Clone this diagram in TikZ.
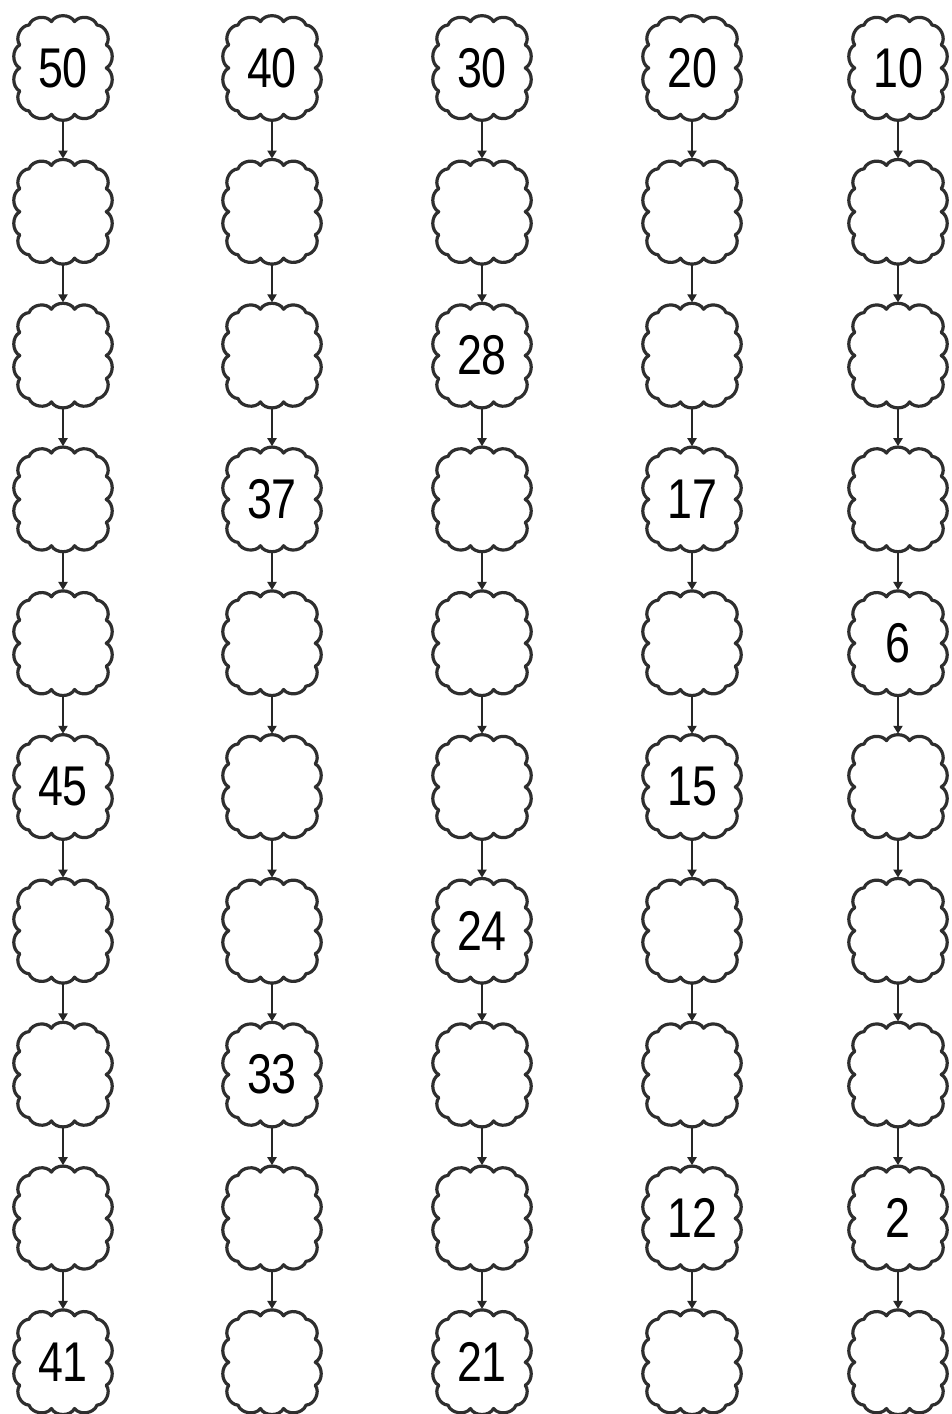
\documentclass[tikz,border=0pt]{standalone}
\usepackage{fontspec}
\setmainfont{Liberation Sans}
\usetikzlibrary{arrows.meta}
\tikzset{
  cellbox/.style={rectangle, draw=none, minimum width=100pt, minimum height=106pt,
    inner sep=0pt, font=\fontsize{56}{56}\selectfont},
  cloudline/.style={draw=black!82, line width=3.2pt, fill=white, line join=round},
  puff/.style={bend right=62},
  link/.style={draw=black!85, line width=2.6pt, -{Triangle[length=8pt,width=9pt]}}
}
\newcommand\cloudoutline{(-11.2,45) to[puff] (-32.97,41.72) to[puff] (-42,22.4)
 to[puff] (-42,0) to[puff] (-42,-22.4) to[puff] (-32.97,-41.72) to[puff] (-11.2,-45)
 to[puff] (11.2,-45) to[puff] (32.97,-41.72) to[puff] (42,-22.4) to[puff] (42,0)
 to[puff] (42,22.4) to[puff] (32.97,41.72) to[puff] (11.2,45) to[puff] (-11.2,45) -- cycle}
\newcommand\celltext[1]{\scalebox{0.8}[1]{\ifcase#1\or
50\or\or\or\or\or45\or\or\or\or41\or
40\or\or\or37\or\or\or\or33\or\or\or
30\or\or28\or\or\or\or24\or\or\or21\or
20\or\or\or17\or\or15\or\or\or12\or\or
10\or\or\or\or6\or\or\or\or2\or\fi}}
\begin{document}
\begin{tikzpicture}[x=1pt,y=1pt]
\useasboundingbox (0,0) rectangle (951,1414);
\fill[white] (0,0) rectangle (951,1414);
\foreach \c/\x in {1/63,2/272,3/482,4/692,5/898}{
  \foreach \r in {1,...,10}{
    \pgfmathtruncatemacro\idx{(\c-1)*10+\r}
    \pgfmathsetmacro\yy{1414-68-(\r-1)*143.8}
    \draw[cloudline, shift={(\x,\yy)}, scale=1.03] \cloudoutline;
    \node[cellbox] (c\c-\r) at (\x,\yy) {\celltext{\idx}};
  }
}
\foreach \c in {1,...,5}{
  \foreach \r [evaluate=\r as \n using int(\r+1)] in {1,...,9}{
    \draw[link] (c\c-\r) -- (c\c-\n);
  }
}
\end{tikzpicture}
\end{document}
